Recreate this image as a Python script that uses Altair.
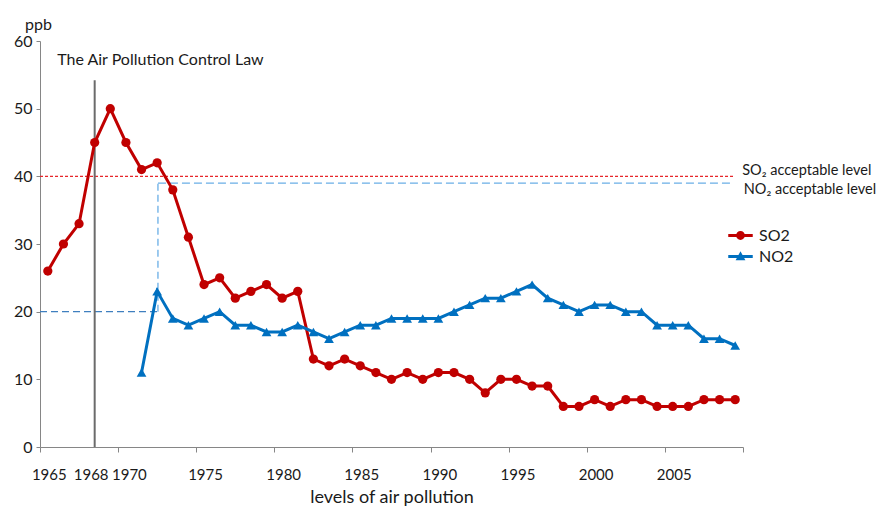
import altair as alt
import pandas as pd

# ---------------- data ----------------
years = list(range(1965, 2010))
so2 = [26, 30, 33, 45, 50, 45, 41, 42, 38, 31,
       24, 25, 22, 23, 24, 22, 23, 13, 12, 13,
       12, 11, 10, 11, 10, 11, 11, 10, 8, 10,
       10, 9, 9, 6, 6, 7, 6, 7, 7, 6,
       6, 6, 7, 7, 7]
no2_years = list(range(1971, 2010))
no2 = [11, 23, 19, 18, 19, 20, 18, 18, 17, 17,
       18, 17, 16, 17, 18, 18, 19, 19, 19, 19,
       20, 21, 22, 22, 23, 24, 22, 21, 20, 21,
       21, 20, 20, 18, 18, 18, 16, 16, 15]

series_names = ["SO2", "NO2"]
series_colors = ["#c00000", "#0070c0"]

label_years = [1965, 1968, 1970, 1975, 1980, 1985, 1990, 1995, 2000, 2005]
tick_positions = [1964.5, 1969.5, 1974.5, 1979.5, 1984.5, 1989.5, 1994.5, 1999.5, 2004.5, 2009.5]
y_ticks = [0, 10, 20, 30, 40, 50, 60]

so2_limit = 40
no2_limit_high = 39
no2_limit_low = 20
law_year = 1968
law_line_top = 54.2

FONT = "Lato"
TXT = "#1a1a1a"
AXIS = "#868686"

x_dom = [1964.5, 2009.5]
xs = alt.Scale(domain=x_dom, nice=False, zero=False)
ys = alt.Scale(domain=[0, 60], nice=False)

df = pd.concat([
    pd.DataFrame({"year": years, "value": so2, "series": "SO2"}),
    pd.DataFrame({"year": no2_years, "value": no2, "series": "NO2"}),
], ignore_index=True)

so2_sym = ("M-1,-0.12H1V0.12H-1Z "
           "M0.36,0A0.36,0.36 0 1,1 -0.36,0A0.36,0.36 0 1,1 0.36,0Z")
no2_sym = ("M-1,-0.12H1V0.12H-1Z "
           "M0,-0.42L0.4,0.3L-0.4,0.3Z")

legend_spec = alt.Legend(title=None, orient="none", legendX=688, legendY=182,
                         labelFont=FONT, labelFontSize=16, labelColor=TXT,
                         symbolSize=600, symbolStrokeWidth=0, symbolOpacity=1,
                         rowPadding=-4, labelOffset=6)
color = alt.Color("series:N", scale=alt.Scale(domain=series_names, range=series_colors),
                  legend=legend_spec)

y_axis = alt.Axis(values=y_ticks, grid=False, tickSize=4, tickColor=AXIS, domainColor=AXIS,
                  labelFont=FONT, labelFontSize=16, labelColor=TXT, labelPadding=4,
                  title="ppb", titleAngle=0, titleX=-2, titleY=-17, titleAlign="center",
                  titleBaseline="middle", titleFont=FONT, titleFontSize=16,
                  titleFontWeight="normal", titleColor=TXT)


def X(field="year"):
    return alt.X(f"{field}:Q", scale=xs, axis=None)


def Y(field="value"):
    return alt.Y(f"{field}:Q", scale=ys, axis=y_axis)


# ---------------- acceptable levels ----------------
so2_std = pd.DataFrame({"x": [1964.5], "x2": [2008.9], "y": [so2_limit]})
so2_rule = alt.Chart(so2_std).mark_rule(color="#e8262a", strokeWidth=1.2, strokeDash=[3, 2]).encode(
    x=X("x"), x2="x2", y=Y("y"))

no2_low = pd.DataFrame({"x": [1964.5], "x2": [1972.05], "y": [no2_limit_low]})
no2_low_rule = alt.Chart(no2_low).mark_rule(color="#3f7fbf", strokeWidth=1.3, strokeDash=[7, 4]).encode(
    x=X("x"), x2="x2", y=Y("y"))

no2_vert = pd.DataFrame({"x": [1972.05], "y": [no2_limit_low], "y2": [no2_limit_high]})
no2_vert_rule = alt.Chart(no2_vert).mark_rule(color="#6aaee6", strokeWidth=1.3, strokeDash=[7, 4]).encode(
    x=X("x"), y=Y("y"), y2="y2")

no2_high = pd.DataFrame({"x": [1972.05], "x2": [2008.7], "y": [no2_limit_high]})
no2_high_rule = alt.Chart(no2_high).mark_rule(color="#6aaee6", strokeWidth=1.3, strokeDash=[8, 4]).encode(
    x=X("x"), x2="x2", y=Y("y"))

# ---------------- law line ----------------
law = pd.DataFrame({"x": [law_year], "y": [0], "y2": [law_line_top]})
law_rule = alt.Chart(law).mark_rule(color="#6b6b6b", strokeWidth=2).encode(
    x=X("x"), y=Y("y"), y2="y2")

law_text = alt.Chart(pd.DataFrame({"x": [1965.6], "y": [57.2], "t": ["The Air Pollution Control Law"]})).mark_text(
    align="left", baseline="middle", font=FONT, fontSize=16, color=TXT).encode(
    x=X("x"), y=Y("y"), text="t:N")

lvl_text = alt.Chart(pd.DataFrame({
    "x": [2009.45, 2009.55], "y": [40.75, 38.0],
    "t": ["SO\u2082 acceptable level", "NO\u2082 acceptable level"]})).mark_text(
    align="left", baseline="middle", font=FONT, fontSize=14.5, color=TXT).encode(
    x=X("x"), y=Y("y"), text="t:N")

# ---------------- data series ----------------
label_shift = {"condition": [{"test": "datum.value == 1968", "value": -4},
                             {"test": "datum.value == 1970", "value": 3}],
               "value": 1}

lines = alt.Chart(df).mark_line(strokeWidth=3).encode(
    x=alt.X("year:Q", scale=xs,
            axis=alt.Axis(values=label_years, format="d", ticks=False, grid=False, orient="bottom",
                          domainColor=AXIS, domainWidth=1, labelFont=FONT, labelFontSize=15,
                          labelColor=TXT, labelPadding=20, labelFlush=False, labelOverlap=False,
                          labelOffset=label_shift,
                          title="levels of air pollution", titleFont=FONT, titleFontSize=18,
                          titleFontWeight="normal", titleColor=TXT, titlePadding=6)),
    y=Y(),
    color=color,
    detail="series:N",
)

so2_pts = alt.Chart(df).transform_filter(alt.datum.series == "SO2").mark_point(
    shape="circle", filled=True, size=85, opacity=1).encode(x=X(), y=Y(), color=color)
no2_pts = alt.Chart(df).transform_filter(alt.datum.series == "NO2").mark_point(
    shape="triangle-up", filled=True, size=95, opacity=1).encode(x=X(), y=Y(), color=color)

# ---------------- legend (symbols: line + marker) ----------------
legend_layer = alt.Chart(df).transform_filter("false").mark_point(filled=True, opacity=1).encode(
    x=X(), y=Y(),
    color=color,
    shape=alt.Shape("series:N", scale=alt.Scale(domain=series_names, range=[so2_sym, no2_sym]),
                    legend=legend_spec),
)

# ---------------- x tick marks ----------------
ticks_layer = alt.Chart(pd.DataFrame({"t": tick_positions})).mark_point(opacity=0).encode(
    x=alt.X("t:Q", scale=xs,
            axis=alt.Axis(values=tick_positions, labels=False, ticks=True, tickSize=5, tickColor=AXIS,
                          domain=False, grid=False, orient="bottom", title=None)),
)

chart = alt.layer(
    so2_rule, no2_low_rule, no2_vert_rule, no2_high_rule, law_rule,
    lines, so2_pts, no2_pts, legend_layer, ticks_layer, law_text, lvl_text,
).resolve_axis(x="independent").properties(
    width=703, height=406,
    autosize=alt.AutoSizeParams(type="none"),
    padding={"left": 32, "top": 33, "right": 140, "bottom": 62},
).configure_view(stroke=None).configure_axis(tickWidth=1, domainWidth=1)

chart.save("out.html", embed_options={"renderer": "svg", "actions": False})
